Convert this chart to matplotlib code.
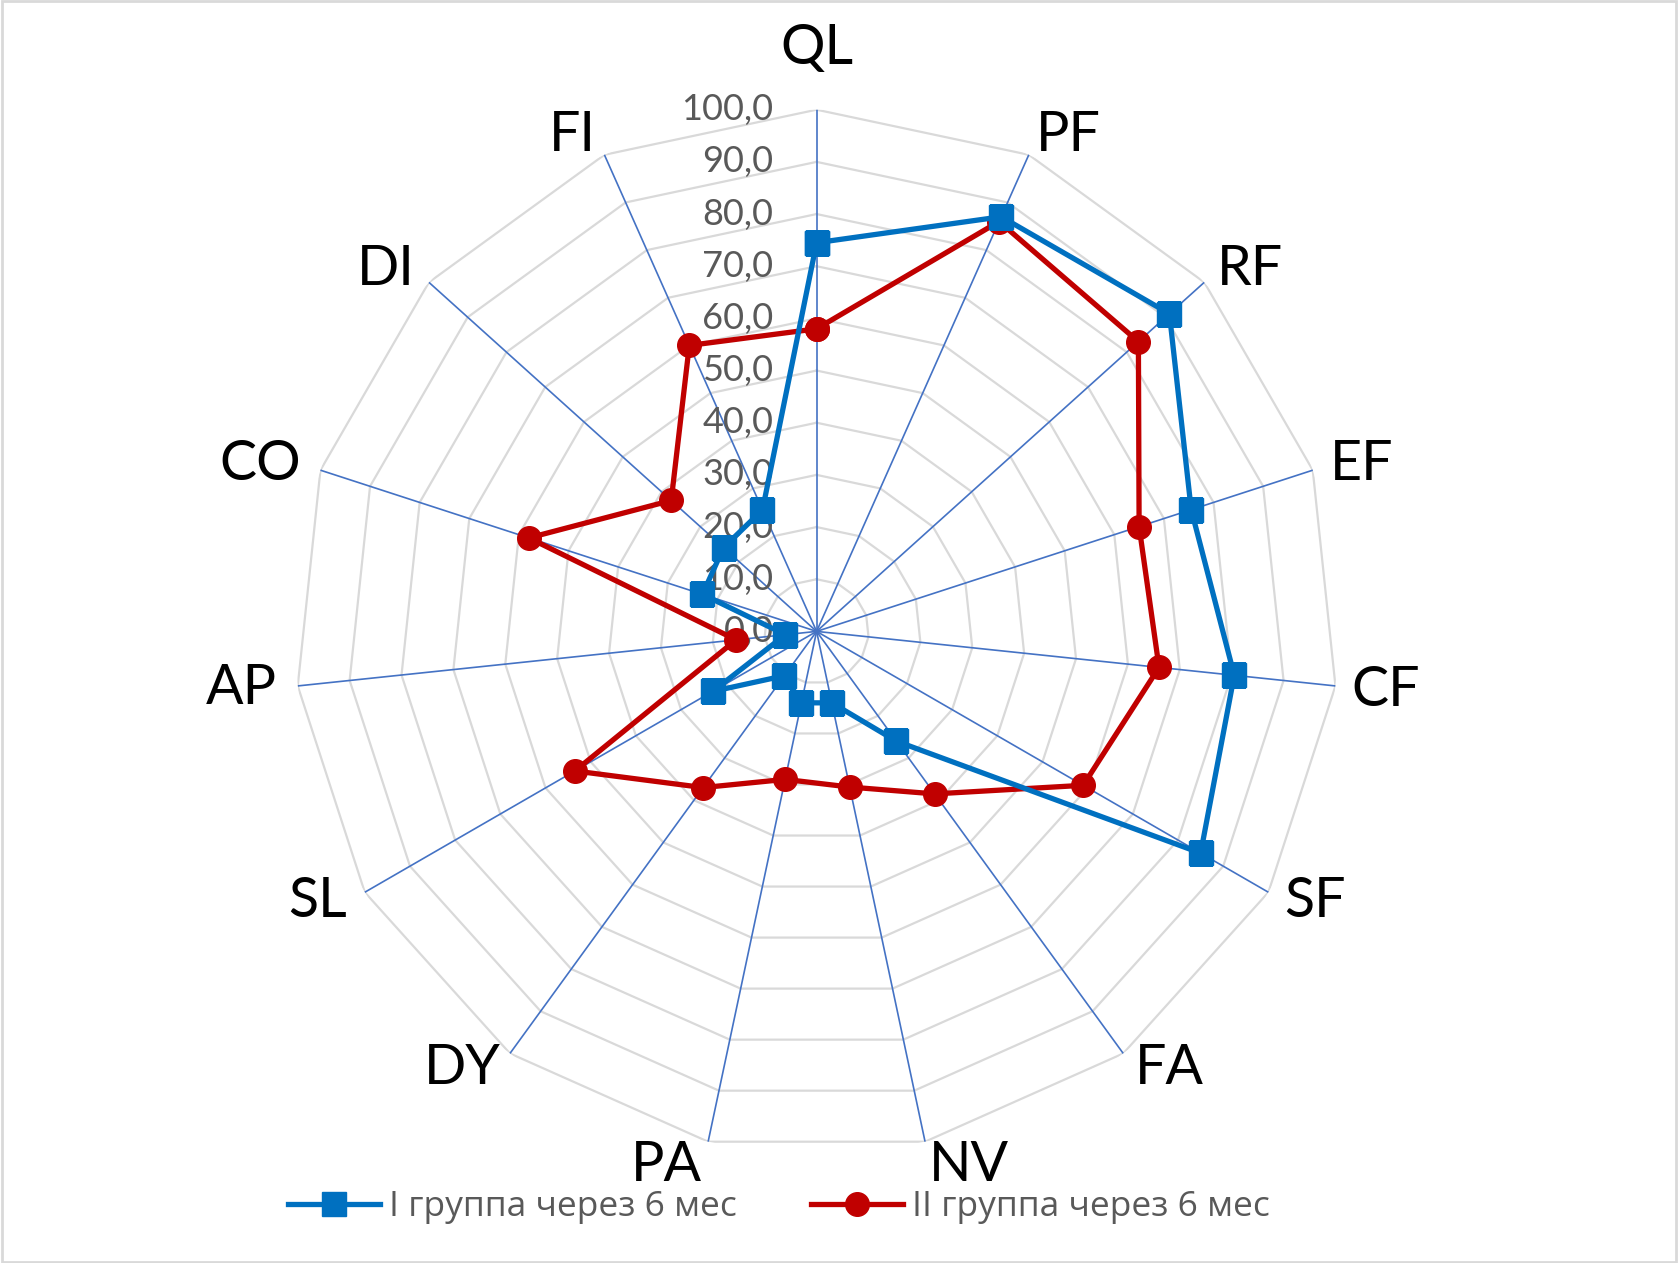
import numpy as np
import matplotlib
matplotlib.use("Agg")
import matplotlib.pyplot as plt
from matplotlib import transforms
from matplotlib.patches import Rectangle

categories = ["QL", "PF", "RF", "EF", "CF", "SF", "FA", "NV", "PA", "DY", "SL", "AP", "CO", "DI", "FI"]
group1 = [74.5, 87.0, 91.0, 75.5, 80.5, 85.0, 26.0, 14.0, 14.0, 10.5, 23.0, 6.0, 23.0, 24.0, 25.5]
group2 = [58.0, 86.0, 83.0, 65.0, 66.0, 59.0, 38.5, 30.5, 29.0, 37.0, 53.5, 15.5, 58.0, 37.5, 60.0]
series_names = ["I группа через 6 мес", "II группа через 6 мес"]
tick_values = [0, 10, 20, 30, 40, 50, 60, 70, 80, 90, 100]
tick_labels = ["0,0", "10,0", "20,0", "30,0", "40,0", "50,0", "60,0", "70,0", "80,0", "90,0", "100,0"]

# label offsets from the chart centre in pixels (x right, y down) -- style/layout only
label_offsets = [(0, -585), (252, -498), (433, -364), (545, -169), (569, 57), (498, 268),
                 (353, 435), (152, 532), (-150, 532), (-354, 435), (-499, 268), (-575, 55),
                 (-556, -169), (-431, -364), (-244, -498)]

W, H = 1678, 1263
fig = plt.figure(figsize=(W / 100, H / 100), dpi=100)
fig.patches.append(Rectangle((0.001, 0.001), 0.998, 0.998, transform=fig.transFigure,
                             fill=False, edgecolor="#D9D9D9", linewidth=2.0))

cx, cy, R = 816.6, 631.4, 521.7
ax = fig.add_axes([(cx - R) / W, 1 - (cy + R) / H, 2 * R / W, 2 * R / H], projection="polar")
ax.set_theta_zero_location("N")
ax.set_theta_direction(-1)
ax.set_ylim(0, 100)
ax.grid(False)
ax.spines["polar"].set_visible(False)
ax.set_xticks([])
ax.set_yticks([])
ax.patch.set_alpha(0)

n = len(categories)
theta = np.arange(n) * 2 * np.pi / n
theta_closed = np.append(theta, theta[0])

# polygon gridlines
for v in tick_values[1:]:
    ax.plot(theta_closed, [v] * (n + 1), color="#D9D9D9", linewidth=1.6, zorder=1)
# spokes
for t in theta:
    ax.plot([t, t], [0, 100], color="#4472C4", linewidth=1.2, zorder=2)

# tick labels
off = transforms.offset_copy(ax.transData, fig=fig, x=-43, y=0, units="dots")
for v, lab in zip(tick_values, tick_labels):
    ax.text(0, v, lab, transform=off, ha="right", va="center", fontsize=26,
            color="#595959", family="Lato", zorder=3)

# category labels
for lab, (dx, dy) in zip(categories, label_offsets):
    tr = transforms.offset_copy(ax.transData, fig=fig, x=dx, y=-dy - 2, units="dots")
    ax.text(0, 0, lab, transform=tr, ha="center", va="center", fontsize=40,
            color="black", family="Lato", clip_on=False)

g1 = np.append(group1, group1[0])
g2 = np.append(group2, group2[0])
l1, = ax.plot(theta_closed, g1, color="#0070C0", linewidth=3.8, marker="s",
              markersize=17, zorder=5, label=series_names[0])
l2, = ax.plot(theta_closed, g2, color="#C00000", linewidth=3.8, marker="o",
              markersize=17, zorder=4, label=series_names[1])

leg = fig.legend(handles=[l1, l2], loc="center", bbox_to_anchor=(0.464, 1 - 1207 / H),
                 ncol=2, frameon=False, handlelength=2.6,
                 handletextpad=0.25, columnspacing=2.1,
                 prop={"family": "Open Sans", "size": 25.5})
for txt in leg.get_texts():
    txt.set_color("#595959")

fig.savefig("out.png", dpi=100)
